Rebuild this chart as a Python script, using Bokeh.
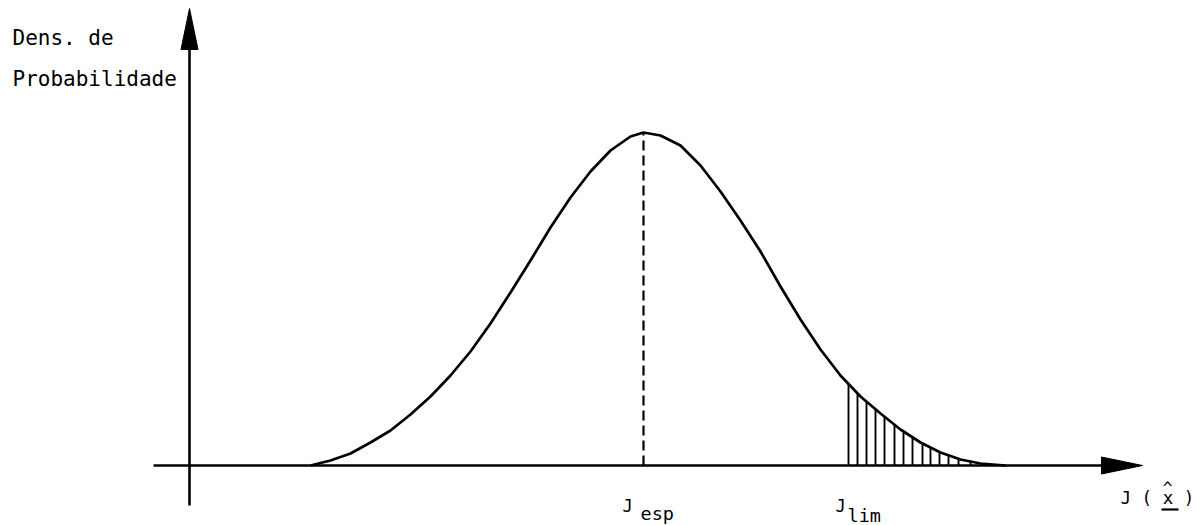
import numpy as np
from bokeh.plotting import figure
from bokeh.models import Range1d
from bokeh.core.properties import value
from bokeh.embed import file_html
from bokeh.resources import INLINE

# ---- data (x along the J axis, y = probability density; plot units) ----
curve_x = [121, 141, 161, 181, 201, 221, 241, 261, 281, 301, 321, 341, 361, 381, 401, 421, 441, 454,
           471, 491, 511, 531, 551, 571, 591, 611, 631, 651, 671, 691, 711, 731, 751, 771, 791, 816]
curve_y = [0, 5, 12, 23, 35, 51, 69, 90, 114, 142, 173, 205, 238, 268, 294, 315, 329, 333,
           330, 320, 300, 274, 245, 214, 179, 146, 116, 90, 69, 52, 36, 23, 13, 6, 2, 0]
j_esp = 454          # expected value (peak)
j_lim = 659          # limit value (start of hatched tail)
hatch_x = [659, 668, 677, 686, 695, 705, 714, 723, 733, 741, 750, 759, 769, 781, 794]

y_label = ["Dens. de", "Probabilidade"]
x_label = "J ( x )"

# ---- axis extents (plot units) ----
X_MIN, X_TIP = -36, 953
Y_MIN, Y_TIP = -40, 457
HEAD_LEN, HEAD_HALF = 41, 8.5

W, H = 1204, 525
p = figure(width=W, height=H, output_backend="svg", toolbar_location=None,
           x_axis_type=None, y_axis_type=None, min_border=0,
           x_range=Range1d(-189, -189 + W), y_range=Range1d(465 - H, 465))
p.outline_line_color = None
p.grid.visible = False
p.background_fill_color = "white"
p.border_fill_color = "white"

INK = "black"

# axes with arrow heads
p.line([X_MIN, X_TIP - HEAD_LEN + 2], [0, 0], line_color=INK, line_width=2.6)
p.line([0, 0], [Y_MIN, Y_TIP - HEAD_LEN + 2], line_color=INK, line_width=2.6)
p.patch([X_TIP, X_TIP - HEAD_LEN, X_TIP - HEAD_LEN], [0, HEAD_HALF, -HEAD_HALF],
        fill_color=INK, line_color=INK, line_width=1)
p.patch([0, HEAD_HALF, -HEAD_HALF], [Y_TIP, Y_TIP - HEAD_LEN, Y_TIP - HEAD_LEN],
        fill_color=INK, line_color=INK, line_width=1)

# hatched tail
hatch_top = np.interp(hatch_x, curve_x, curve_y)
p.segment(x0=hatch_x, y0=[0] * len(hatch_x), x1=hatch_x, y1=hatch_top,
          line_color=INK, line_width=1.9)

# dashed line at the expected value
p.line([j_esp, j_esp], [0, float(np.interp(j_esp, curve_x, curve_y))],
       line_color=INK, line_width=2.2, line_dash="10 5")

# density curve
p.line(curve_x, curve_y, line_color=INK, line_width=2.7, line_join="round")

FONT = value("DejaVu Sans Mono")

# y-axis label
p.text(x=[-177, -177], y=[428, 387], text=y_label, text_font=FONT,
       text_font_size="21px", text_color=INK, text_baseline="alphabetic", text_align="left")

# J_esp and J_lim labels
p.text(x=[j_esp - 21, j_lim - 13], y=[-40, -40], text=["J", "J"], text_font=FONT,
       text_font_size="17px", text_color=INK, text_baseline="alphabetic", text_align="left")
p.text(x=[j_esp - 3, j_lim - 1], y=[-48, -50], text=["esp", "lim"], text_font=FONT,
       text_font_size="18.5px", text_color=INK, text_baseline="alphabetic", text_align="left")

# x-axis label: J ( x ) with hat and underline on the x
LX = 931
p.text(x=[LX], y=[-32], text=[x_label], text_font=FONT,
       text_font_size="17.5px", text_color=INK, text_baseline="alphabetic", text_align="left")
p.text(x=[LX + 47], y=[-22], text=["^"], text_font=FONT,
       text_font_size="16px", text_color=INK, text_baseline="alphabetic", text_align="center")
p.segment(x0=[LX + 41], y0=[-44], x1=[LX + 58], y1=[-44], line_color=INK, line_width=2.2)

open("out.html", "w").write(file_html(p, INLINE))
